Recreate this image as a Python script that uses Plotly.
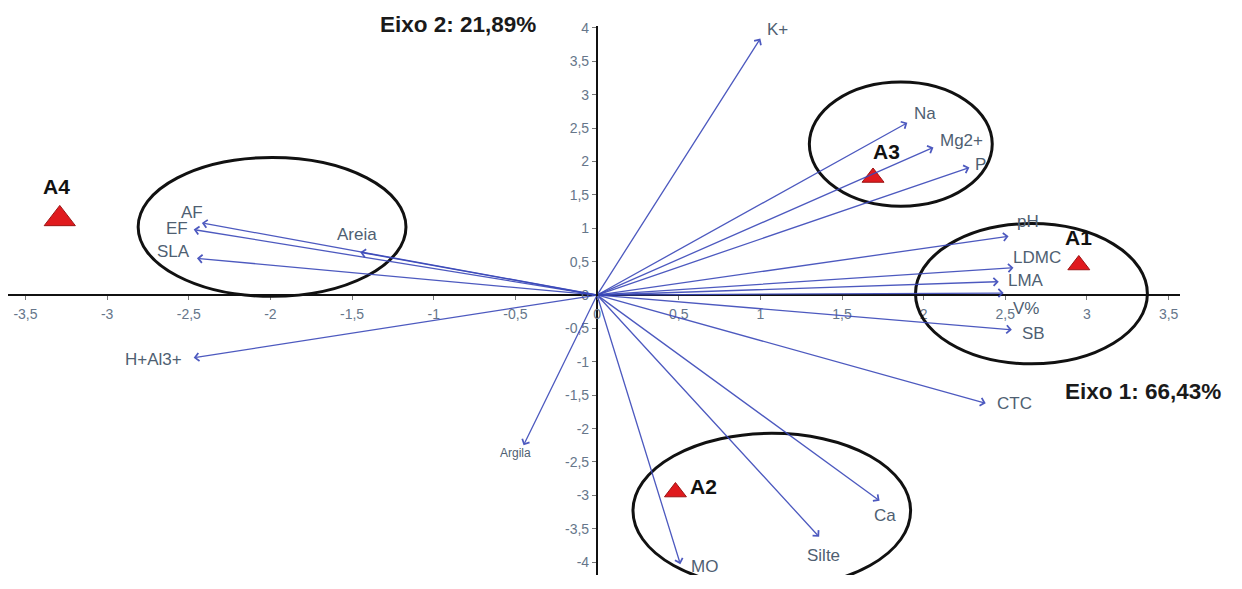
import plotly.graph_objects as go

# ---------------- data ----------------
var_names = ["K+", "Na", "Mg2+", "P", "pH", "LDMC", "LMA", "V%", "SB", "CTC",
             "Ca", "Silte", "MO", "Argila", "H+Al3+", "SLA", "EF", "AF", "Areia"]
var_x = [1.00, 1.90, 2.06, 2.28, 2.52, 2.55, 2.46, 2.49, 2.54, 2.38,
         1.73, 1.36, 0.51, -0.45, -2.47, -2.45, -2.47, -2.42, -1.45]
var_y = [3.84, 2.58, 2.21, 1.91, 0.88, 0.41, 0.20, 0.03, -0.52, -1.62,
         -3.08, -3.62, -4.03, -2.25, -0.94, 0.55, 0.98, 1.08, 0.64]

site_names = ["A1", "A2", "A3", "A4"]
site_x = [2.95, 0.48, 1.69, -3.29]
site_y = [0.45, -2.95, 1.76, 1.14]

# groups (ellipses): centre x, centre y, semi-axis x, semi-axis y
grp_cx = [-1.99, 1.86, 2.66, 1.07]
grp_cy = [1.02, 2.26, 0.02, -3.23]
grp_rx = [0.82, 0.56, 0.71, 0.85]
grp_ry = [1.04, 0.93, 1.05, 1.16]

x_ticks = [-3.5, -3, -2.5, -2, -1.5, -1, -0.5, 0, 0.5, 1, 1.5, 2, 2.5, 3, 3.5]
x_tick_labels = ["-3,5", "-3", "-2,5", "-2", "-1,5", "-1", "-0,5", "0",
                 "0,5", "1", "1,5", "2", "2,5", "3", "3,5"]
y_ticks = [-4, -3.5, -3, -2.5, -2, -1.5, -1, -0.5, 0, 0.5, 1, 1.5, 2, 2.5, 3, 3.5, 4]
y_tick_labels = ["-4", "-3,5", "-3", "-2,5", "-2", "-1,5", "-1", "-0,5", "0",
                 "0,5", "1", "1,5", "2", "2,5", "3", "3,5", "4"]

axis1_title = "Eixo 1: 66,43%"
axis2_title = "Eixo 2: 21,89%"

# ---------------- styles ----------------
FONT = "Liberation Sans, Arial, sans-serif"
ARROW_COLOR = "rgba(58,72,185,0.9)"
LABEL_COLOR = "#4f5f72"
TICK_COLOR = "#66768a"

# label offsets in pixels (dx right, dy up)
label_shift = {
    "K+": (17, 9), "Na": (18, 9), "Mg2+": (28, 7), "P": (11, 3),
    "pH": (19, 15), "LDMC": (24, 10), "LMA": (27, 1), "V%": (22, -15),
    "SB": (22, -4), "CTC": (29, 0), "Ca": (5, -15), "Silte": (4, -19),
    "MO": (24, -2), "Argila": (-8, -8), "H+Al3+": (-40, -2),
    "SLA": (-23, 7), "EF": (-17, 1), "AF": (-10, 10), "Areia": (-3, 18),
}
site_shift = {"A1": (0, 27), "A2": (28, 6), "A3": (13, 26), "A4": (-3, 32)}
site_size = {"A1": 19, "A2": 19, "A3": 19, "A4": 27}

fig = go.Figure()

# sample points
fig.add_trace(go.Scatter(
    x=site_x, y=site_y, mode="markers",
    marker=dict(symbol="triangle-up", size=[site_size[s] for s in site_names],
                color="#e01a1e", opacity=1, line=dict(color="#9b1414", width=1)),
    hoverinfo="text", text=site_names, showlegend=False))

annotations = []
# arrows from the origin
for n, x, y in zip(var_names, var_x, var_y):
    annotations.append(dict(
        x=x, y=y, ax=0, ay=0, xref="x", yref="y", axref="x", ayref="y",
        text="", showarrow=True, arrowhead=4, arrowsize=1.2, arrowwidth=1.3,
        arrowcolor=ARROW_COLOR, standoff=0, startstandoff=0))
    dx, dy = label_shift[n]
    annotations.append(dict(
        x=x, y=y, xref="x", yref="y", text=n, showarrow=False,
        xshift=dx, yshift=dy,
        font=dict(family=FONT, size=12 if n == "Argila" else 17, color=LABEL_COLOR)))

for s, x, y in zip(site_names, site_x, site_y):
    dx, dy = site_shift[s]
    annotations.append(dict(
        x=x, y=y, xref="x", yref="y", text="<b>%s</b>" % s, showarrow=False,
        xshift=dx, yshift=dy, font=dict(family=FONT, size=21, color="#111111")))

annotations.append(dict(x=3.34, y=-1.45, xref="x", yref="y", text="<b>%s</b>" % axis1_title,
                        showarrow=False, font=dict(family=FONT, size=22.5, color="#1a1a1a")))
annotations.append(dict(x=-0.85, y=4.0, yshift=3, xref="x", yref="y", text="<b>%s</b>" % axis2_title,
                        showarrow=False, font=dict(family=FONT, size=22.5, color="#1a1a1a")))

shapes = []
for cx, cy, rx, ry in zip(grp_cx, grp_cy, grp_rx, grp_ry):
    shapes.append(dict(type="circle", xref="x", yref="y",
                       x0=cx - rx, x1=cx + rx, y0=cy - ry, y1=cy + ry,
                       line=dict(color="#111111", width=3), layer="above"))

# figure is placed inside the page body (8 px default margin)
fig.update_layout(
    width=1226, height=573,
    margin=dict(l=0, r=0, t=0, b=0),
    paper_bgcolor="white", plot_bgcolor="white",
    showlegend=False,
    annotations=annotations, shapes=shapes,
    xaxis=dict(domain=[0.0, 0.956], range=[-3.607, 3.570],
               anchor="free", position=0.5044,
               showline=True, linecolor="#111111", linewidth=2,
               ticks="outside", ticklen=4, tickcolor="#777777",
               tickvals=x_ticks, ticktext=x_tick_labels,
               tickfont=dict(family=FONT, size=14, color=TICK_COLOR),
               ticklabelstandoff=2,
               showgrid=False, zeroline=False, fixedrange=True),
    yaxis=dict(domain=[0.0105, 0.979], range=[-4.193, 4.030],
               anchor="free", position=0.4804,
               showline=True, linecolor="#111111", linewidth=2,
               ticks="outside", ticklen=4, tickcolor="#777777",
               tickvals=y_ticks, ticktext=y_tick_labels,
               tickfont=dict(family=FONT, size=14, color=TICK_COLOR),
               showgrid=False, zeroline=False, fixedrange=True),
)

fig.write_html("out.html")
